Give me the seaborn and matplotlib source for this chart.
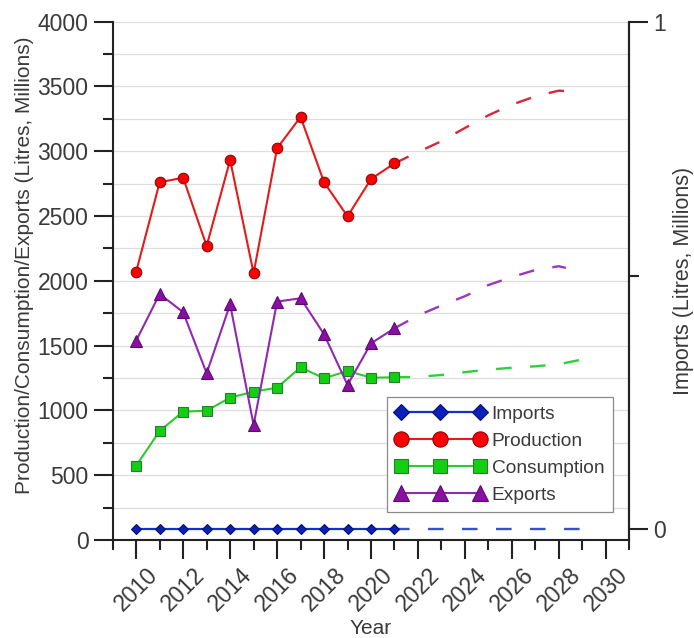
import numpy as np
import pandas as pd
import seaborn as sns
import matplotlib
matplotlib.use("Agg")
import matplotlib.pyplot as plt
from matplotlib.ticker import MultipleLocator

# ---- data (Litres, Millions) ----
years = [2010, 2011, 2012, 2013, 2014, 2015, 2016, 2017, 2018, 2019, 2020, 2021]
imports = [0, 0, 0, 0, 0, 0, 0, 0, 0, 0, 0, 0]
production = [2071, 2761, 2796, 2269, 2933, 2059, 3023, 3265, 2761, 2498, 2786, 2907]
consumption = [574, 842, 991, 998, 1099, 1145, 1176, 1333, 1248, 1305, 1253, 1256]
exports = [1539, 1899, 1758, 1287, 1819, 888, 1840, 1866, 1588, 1197, 1518, 1634]

# projected trends
fc_years_a = [2021, 2022, 2023, 2024, 2025, 2026, 2027, 2028, 2028.3]
production_fc = [2907, 2994, 3078, 3180, 3278, 3360, 3424, 3468, 3464]
exports_fc = [1634, 1733, 1810, 1882, 1968, 2030, 2084, 2113, 2100]
fc_years_b = [2021, 2022, 2023, 2024, 2025, 2026, 2027, 2028, 2028.9]
consumption_fc = [1256, 1259, 1274, 1296, 1315, 1330, 1341, 1357, 1390]
imports_fc = [0, 0, 0, 0, 0, 0, 0, 0, 0]

x_ticks = list(range(2010, 2031, 2))

sns.set_theme(style="white")
plt.rcParams["font.family"] = ["Liberation Sans", "DejaVu Sans"]
text_c = "#3a3a3a"
spine_c = "#222222"

fig = plt.figure(figsize=(6.94, 6.38), dpi=100)
ax = fig.add_axes([0.1624, 0.1535, 0.7444, 0.8125])
ax2 = ax.twinx()

dash = (0, (6.6, 7.8))

series = [
    # name, data, forecast x, forecast y, marker, ms, line, face, edge, dashed colour
    ("Production", production, fc_years_a, production_fc, "o", 7.6, "#E31B1B", "#FF0000", "#8A0A0A", "#D8263A"),
    ("Consumption", consumption, fc_years_b, consumption_fc, "s", 7.4, "#2CCB2C", "#11D011", "#2D7A2D", "#2FCF3A"),
    ("Exports", exports, fc_years_a, exports_fc, "^", 8.2, "#9128B0", "#8A0FA3", "#5E0A72", "#9A36C4"),
]

handles = {}
# imports on the secondary axis
sns.lineplot(x=fc_years_b, y=imports_fc, ax=ax2, color="#3550D8", lw=1.7,
             linestyle=dash, legend=False, zorder=2)
sns.lineplot(x=years, y=imports, ax=ax2, color="#1430C8", lw=1.6, marker="D",
             markersize=5.6, markerfacecolor="#0A20B8", markeredgecolor="#06107A",
             markeredgewidth=0.8, legend=False, zorder=3)
handles["Imports"] = ax2.lines[-1]

for name, vals, fx, fy, mk, ms, lc, fc, ec, dc in series:
    sns.lineplot(x=fx, y=fy, ax=ax, color=dc, lw=1.7, linestyle=dash,
                 legend=False, zorder=2)
    sns.lineplot(x=years, y=vals, ax=ax, color=lc, lw=1.5, marker=mk,
                 markersize=ms, markerfacecolor=fc, markeredgecolor=ec,
                 markeredgewidth=0.8, legend=False, zorder=3)
    handles[name] = ax.lines[-1]

# axes limits and ticks
ax.set_xlim(2009, 2031)
ax.set_ylim(0, 4000)
ax2.set_ylim(-0.021, 1.0)

ax.set_xticks(x_ticks)
ax.set_xticklabels([str(t) for t in x_ticks], rotation=45, ha="center", va="top")
ax.xaxis.set_minor_locator(MultipleLocator(1))
ax.yaxis.set_major_locator(MultipleLocator(500))
ax.yaxis.set_minor_locator(MultipleLocator(250))
ax2.set_yticks([0, 1])
ax2.yaxis.set_minor_locator(MultipleLocator(0.5))

for a in (ax, ax2):
    a.tick_params(which="major", direction="out", length=13.5, width=1.5,
                  color=spine_c, labelsize=16.5, labelcolor=text_c, pad=4)
    a.tick_params(which="minor", direction="out", length=7.5, width=1.5,
                  color=spine_c)
    for s in a.spines.values():
        s.set_color(spine_c)
        s.set_linewidth(1.5)
    a.spines["top"].set_visible(False)
ax.tick_params(axis="x", which="major", pad=3)
ax.tick_params(axis="x", which="both", bottom=True)
ax.tick_params(axis="y", which="both", left=True)
ax2.tick_params(axis="y", which="both", right=True)
ax2.spines["left"].set_visible(False)
ax2.spines["bottom"].set_visible(False)

# horizontal guide lines at every 250
ax.grid(False)
ax2.grid(False)
for v in np.arange(250, 4001, 250):
    ax.axhline(v, color="#DEDEDA", lw=0.9, zorder=0)

ax.set_xlabel("Year", fontsize=15, color=text_c, labelpad=3)
ax.set_ylabel("Production/Consumption/Exports (Litres, Millions)",
              fontsize=15, color=text_c)
ax.yaxis.set_label_coords(-0.152, 0.531)
ax2.set_ylabel("Imports (Litres, Millions)", fontsize=15.5, color=text_c)
ax2.yaxis.set_label_coords(1.084, 0.50)

order = ["Imports", "Production", "Consumption", "Exports"]
leg = ax2.legend([handles[k] for k in order], order, loc="lower right",
                 bbox_to_anchor=(0.968, 0.0536), borderaxespad=0,
                 fontsize=13.8, numpoints=3, markerscale=1.45,
                 handlelength=4.7, handletextpad=0.32, labelspacing=0.5,
                 borderpad=0.45, fancybox=False, framealpha=1,
                 edgecolor="#8a8a8a", facecolor="white")
leg.get_frame().set_linewidth(0.9)
for t in leg.get_texts():
    t.set_color(text_c)

fig.savefig("out.png", dpi=100)
